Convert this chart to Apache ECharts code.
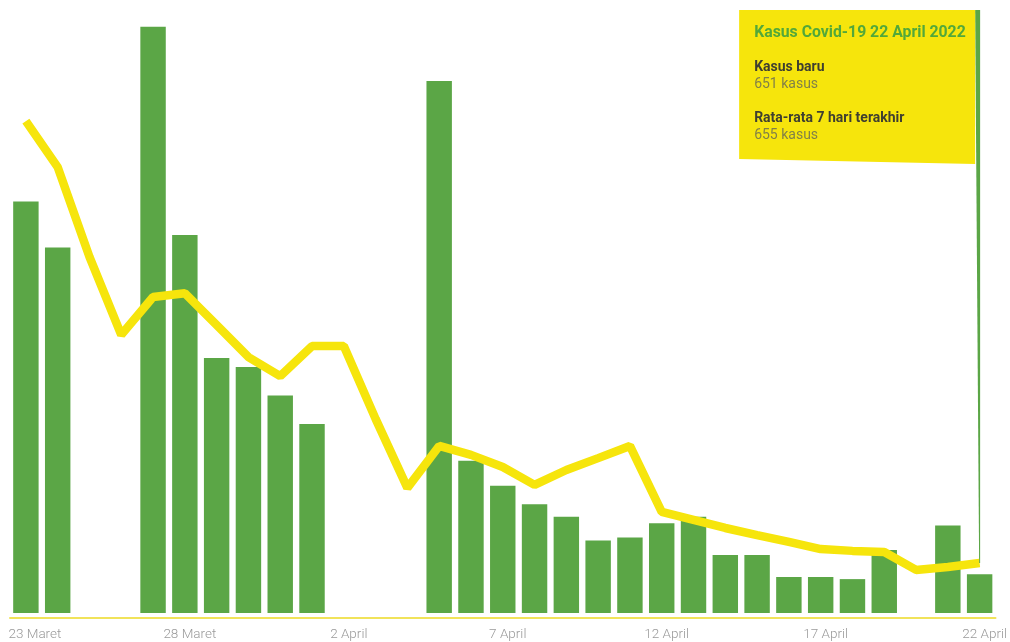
<!DOCTYPE html>
<html>
<head>
<meta charset="utf-8">
<script src="https://cdn.jsdelivr.net/npm/echarts@6/dist/echarts.min.js"></script>
<style>
html,body{margin:0;padding:0;background:#fff;}
#chart{width:1010px;height:642px;}
</style>
</head>
<body>
<div id="chart"></div>
<script>
var categories = ['23 Maret','24 Maret','25 Maret','26 Maret','27 Maret','28 Maret','29 Maret','30 Maret','31 Maret',
  '1 April','2 April','3 April','4 April','5 April','6 April','7 April','8 April','9 April','10 April','11 April',
  '12 April','13 April','14 April','15 April','16 April','17 April','18 April','19 April','20 April','21 April','22 April'];
var newCases = [6920, 6150, null, null, 9860, 6360, 4290, 4140, 3660, 3180, null, null, null,
  8950, 2560, 2140, 1830, 1620, 1220, 1270, 1510, 1620, 975, 975, 605, 605, 570, 1060, null, 1470, 651];
var avg7 = [8275, 7500, 5990, 4680, 5315, 5380, 4845, 4305, 3985, 4490, 4490, 3265, 2105,
  2810, 2660, 2455, 2155, 2405, 2605, 2810, 1700, 1565, 1430, 1310, 1195, 1075, 1045, 1025, 725, 775, 840];
var boxTitle = 'Kasus Covid-19 22 April 2022';
var boxLabels = ['Kasus baru', 'Rata-rata 7 hari terakhir'];
var boxValues = ['651 kasus', '655 kasus'];

var GREEN = '#5ba646';
var YELLOW = '#f6e50c';

var chart = echarts.init(document.getElementById('chart'), null, {renderer: 'canvas'});
chart.setOption({
  animation: false,
  grid: {left: 10, right: 12.5, top: 0, bottom: 24, containLabel: false},
  xAxis: {
    type: 'category',
    data: categories,
    boundaryGap: true,
    axisLine: {show: true, onZero: false, lineStyle: {color: '#f1e35a', width: 2}},
    axisTick: {show: false},
    axisLabel: {
      interval: 4,
      margin: 10,
      color: '#9a9a9a',
      fontFamily: 'Roboto',
      fontWeight: 300,
      fontSize: 13.5,
      formatter: function (v, i) { return i === 0 ? '{f|' + v + '}' : '{m|' + v + '}'; },
      rich: {
        f: {padding: [0, 0, 0, 18], color: '#9a9a9a', fontFamily: 'Roboto', fontWeight: 300, fontSize: 13.5},
        m: {padding: [0, 0, 0, 10], color: '#9a9a9a', fontFamily: 'Roboto', fontWeight: 300, fontSize: 13.5}
      }
    }
  },
  yAxis: {
    type: 'value', min: -84, max: 10311, show: false,
    splitLine: {show: false}
  },
  series: [
    {
      type: 'bar', data: newCases, barWidth: '80%',
      itemStyle: {color: GREEN}, z: 2
    },
    {
      type: 'line', data: avg7, symbol: 'none', z: 3,
      lineStyle: {color: YELLOW, width: 8.5}
    }
  ]
});

var last = categories.length - 1;
var pt = chart.convertToPixel({seriesIndex: 1}, [last, avg7[last]]);
var px = pt[0], py = pt[1];
var right = px - 4.5, left = right - 236;
chart.setOption({
  graphic: [
    {type: 'polygon', shape: {points: [[right, 10], [px + 0.5, 10], [px + 0.5, py], [px - 0.5, py]]},
      style: {fill: GREEN}, z: 10},
    {type: 'polygon', shape: {points: [[left, 10], [right, 10], [right, 164], [left, 159]]},
      style: {fill: YELLOW}, z: 11},
    {type: 'text', x: left + 15, y: 33, z: 12,
      style: {text: boxTitle, fill: '#52a83a', font: 'bold 15.8px Roboto', textVerticalAlign: 'middle'}},
    {type: 'text', x: left + 15, y: 67, z: 12,
      style: {text: boxLabels[0], fill: '#3f3f30', font: 'bold 14px Roboto', textVerticalAlign: 'middle'}},
    {type: 'text', x: left + 15, y: 84, z: 12,
      style: {text: boxValues[0], fill: '#828048', font: '14px Roboto', textVerticalAlign: 'middle'}},
    {type: 'text', x: left + 15, y: 118, z: 12,
      style: {text: boxLabels[1], fill: '#3f3f30', font: 'bold 14px Roboto', textVerticalAlign: 'middle'}},
    {type: 'text', x: left + 15, y: 135, z: 12,
      style: {text: boxValues[1], fill: '#828048', font: '14px Roboto', textVerticalAlign: 'middle'}}
  ]
});
</script>
</body>
</html>
